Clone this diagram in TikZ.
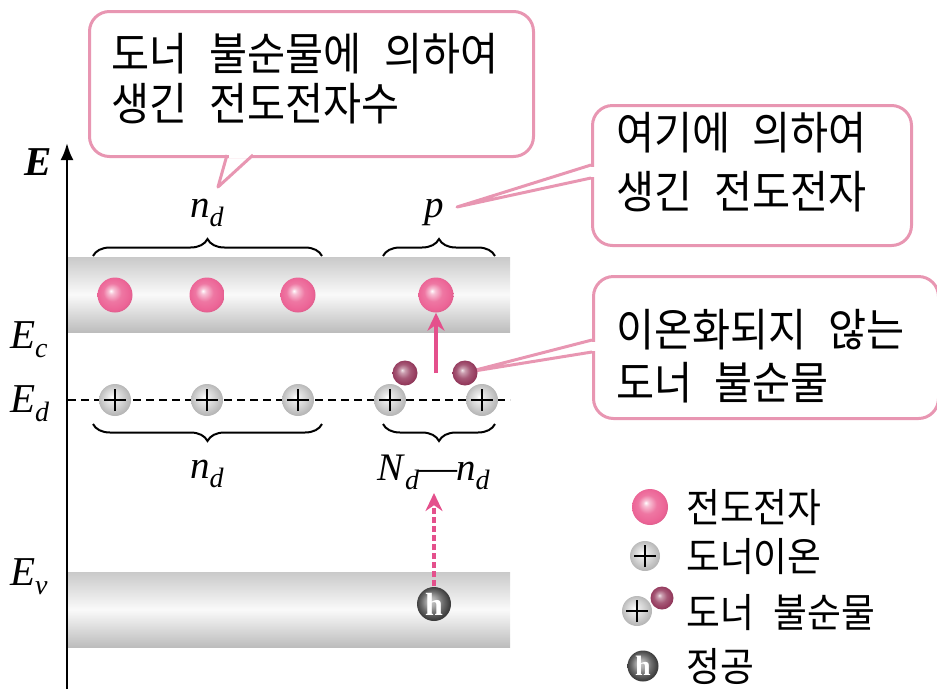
\documentclass[tikz,border=0pt]{standalone}
\usepackage{fontspec}
\setmainfont{Liberation Serif}
\newfontfamily\kr{Noto Sans CJK KR}[WordSpace=2.4,FakeStretch=0.92]
\usetikzlibrary{arrows.meta,decorations.pathreplacing}
\definecolor{calpink}{RGB}{232,150,178}
\definecolor{arrpink}{RGB}{228,80,140}
\definecolor{elpink}{RGB}{236,100,150}
\definecolor{mymaroon}{RGB}{150,60,95}
\pgfdeclareradialshading{pinkball}{\pgfpoint{-6bp}{6bp}}{color(0bp)=(white); color(4bp)=(elpink!40!white); color(13bp)=(elpink!88!white); color(23bp)=(elpink); color(35bp)=(elpink!80!black)}
\pgfdeclareradialshading{grayball}{\pgfpoint{-5bp}{5bp}}{color(0bp)=(white); color(5bp)=(gray!15); color(15bp)=(gray!35); color(24bp)=(gray!55); color(35bp)=(gray!70)}
\pgfdeclareradialshading{maroonball}{\pgfpoint{-6bp}{6bp}}{color(0bp)=(mymaroon!15!white); color(5bp)=(mymaroon!50!white); color(14bp)=(mymaroon!85!white); color(23bp)=(mymaroon); color(35bp)=(mymaroon!70!black)}
\pgfdeclareradialshading{holeball}{\pgfpoint{-5bp}{5bp}}{color(0bp)=(gray!40); color(7bp)=(gray!65); color(16bp)=(gray!85!black); color(24bp)=(black!75); color(35bp)=(black!85)}
\newcommand\symsub[2]{\textit{#1}\raisebox{-0.24em}{\fontsize{28}{28}\selectfont\textit{#2}}}
\begin{document}
\begin{tikzpicture}[x=1pt,y=-1pt,
  band/.style={top color=gray!42, bottom color=gray!52, middle color=gray!4},
  callout/.style={draw=calpink, line width=3pt, rounded corners=20pt, fill=white, inner sep=0pt},
  tailline/.style={draw=calpink, line width=3pt, line join=round},
  ktext/.style={font=\kr\fontsize{45}{45}\selectfont, inner sep=0pt},
  legtext/.style={font=\kr\fontsize{40}{40}\selectfont, inner sep=0pt},
  symlab/.style={font=\fontsize{41}{41}\selectfont, inner sep=0pt},
  brlab/.style={font=\fontsize{39}{39}\selectfont, inner sep=0pt},
  brace/.style={decorate, decoration={brace, amplitude=17pt}, line width=2pt},
  electron/.style={circle, minimum size=35pt, inner sep=0pt, shading=pinkball},
  neutral/.style={circle, minimum size=25pt, inner sep=0pt, shading=maroonball},
  donor/.style={circle, minimum size=32pt, inner sep=0pt, shading=grayball,
    path picture={
      \draw[line width=2.6pt] ([xshift=-11pt]path picture bounding box.center) -- ([xshift=11pt]path picture bounding box.center);
      \draw[line width=2.6pt] ([yshift=-11pt]path picture bounding box.center) -- ([yshift=11pt]path picture bounding box.center);}},
  hole/.style={circle, minimum size=34pt, inner sep=0pt, shading=holeball, text=white,
    font=\bfseries\fontsize{32}{32}\selectfont}
]
\useasboundingbox (0,0) rectangle (937,689);

% bands
\shade[band] (68,257) rectangle (510,332);
\shade[band] (68,572) rectangle (510,647);

% donor level
\coordinate (edl) at (68,400);
\coordinate (edr) at (510,400);
\draw[line width=2pt, dash pattern=on 8pt off 5pt] (edl) -- (edr);

% axis
\coordinate (ax0) at (67,689);
\coordinate (ax1) at (67,143);
\draw[line width=2.5pt, -{Latex[length=17pt,width=13pt]}] (ax0) -- (ax1);

% axis labels
\node[symlab, anchor=base west] (lE) at (24,175) {\textbf{\textit{E}}};
\node[symlab, anchor=base west] (lEc) at (10,348) {\symsub{E}{c}};
\node[symlab, anchor=base west] (lEd) at (10,412) {\symsub{E}{d}};
\node[symlab, anchor=base west] (lEv) at (10,585) {\symsub{E}{v}};

% braces
\coordinate (bt1a) at (93,256); \coordinate (bt1b) at (322,256);
\coordinate (bt2a) at (383,256); \coordinate (bt2b) at (495,256);
\coordinate (bb1a) at (93,424); \coordinate (bb1b) at (322,424);
\coordinate (bb2a) at (383,424); \coordinate (bb2b) at (495,424);
\draw[brace] (bt1a) -- (bt1b);
\draw[brace] (bt2a) -- (bt2b);
\draw[brace] (bb1b) -- (bb1a);
\draw[brace] (bb2b) -- (bb2a);

\node[brlab, anchor=base west] (lnd1) at (190,217) {\symsub{n}{d}};
\node[brlab, anchor=base west] (lp) at (424,217) {\textit{p}};
\node[brlab, anchor=base west] (lnd2) at (190,478) {\symsub{n}{d}};
\node[brlab, anchor=base west] (lNn) at (377,480) {\symsub{N}{d}\kern-1pt—\kern-1pt\symsub{n}{d}};

% callout 1
\node[callout, anchor=north west, minimum width=444pt, minimum height=145pt] (b1) at (88,10) {};
\coordinate (t1a) at (227,155); \coordinate (t1b) at (253,155); \coordinate (t1tip) at (218,187);
\fill[white] (228.5,150) -- (251.5,150) -- (251.5,158) -- (228.5,158) -- cycle;
\draw[tailline] (t1a) -- (t1tip) -- (t1b);
\node[ktext, anchor=base west] (x1a) at (111,70) {도너 불순물에 의하여};
\node[ktext, anchor=base west] (x1b) at (111,120) {생긴 전도전자수};

% callout 2
\node[callout, anchor=north west, minimum width=319pt, minimum height=140pt] (b2) at (591,104) {};
\coordinate (t2a) at (591,165); \coordinate (t2b) at (591,178); \coordinate (t2tip) at (457,207);
\fill[white] (587,166.5) -- (596,166.5) -- (596,176.5) -- (587,176.5) -- cycle;
\draw[tailline] (t2a) -- (t2tip) -- (t2b);
\node[ktext, anchor=base west] (x2a) at (616,149) {여기에 의하여};
\node[ktext, anchor=base west] (x2b) at (616,208) {생긴 전도전자};

% callout 3
\node[callout, anchor=north west, minimum width=345pt, minimum height=142pt] (b3) at (592,275) {};
\coordinate (t3a) at (592,340); \coordinate (t3b) at (592,352); \coordinate (t3tip) at (468,372);
\fill[white] (588,341.5) -- (597,341.5) -- (597,350.5) -- (588,350.5) -- cycle;
\draw[tailline] (t3a) -- (t3tip) -- (t3b);
\node[ktext, anchor=base west] (x3a) at (616,346) {이온화되지 않는};
\node[ktext, anchor=base west] (x3b) at (616,399) {도너 불순물};

% conduction electrons
\node[electron] (e1) at (115,295) {};
\node[electron] (e2) at (207,295) {};
\node[electron] (e3) at (298,295) {};
\node[electron] (e4) at (436,295) {};

% donor ions
\node[donor] (d1) at (115,400) {};
\node[donor] (d2) at (207,400) {};
\node[donor] (d3) at (298,400) {};
\node[donor] (d4) at (390,400) {};
\node[donor] (d5) at (482,400) {};
\node[neutral] (m1) at (405,373) {};
\node[neutral] (m2) at (465,373) {};

% excitation arrow
\coordinate (a1s) at (436,373);
\draw[arrpink, line width=3.5pt, -{Stealth[length=18pt,width=17pt]}] (a1s) -- (e4.south);

% hole and dashed arrow
\coordinate (hc) at (434,604);
\coordinate (a2t) at (434,493);
\draw[arrpink, line width=4pt, dash pattern=on 6pt off 3pt, -{Stealth[length=18pt,width=17pt]}] (hc) -- (a2t);
\node[hole] (h1) at (hc) {h};

% legend
\node[electron, minimum size=36pt] (le1) at (650,507) {};
\node[legtext, anchor=base west] (lt1) at (686,522) {전도전자};
\node[donor, minimum size=30pt] (le2) at (645,556) {};
\node[legtext, anchor=base west] (lt2) at (686,571) {도너이온};
\node[donor, minimum size=30pt] (le3) at (637,611) {};
\node[neutral, minimum size=23pt] (le3m) at (662,598) {};
\node[legtext, anchor=base west] (lt3) at (686,627) {도너 불순물};
\node[hole, minimum size=31pt, font=\bfseries\fontsize{28}{28}\selectfont] (le4) at (643,666) {h};
\node[legtext, anchor=base west] (lt4) at (686,681) {정공};
\end{tikzpicture}
\end{document}
